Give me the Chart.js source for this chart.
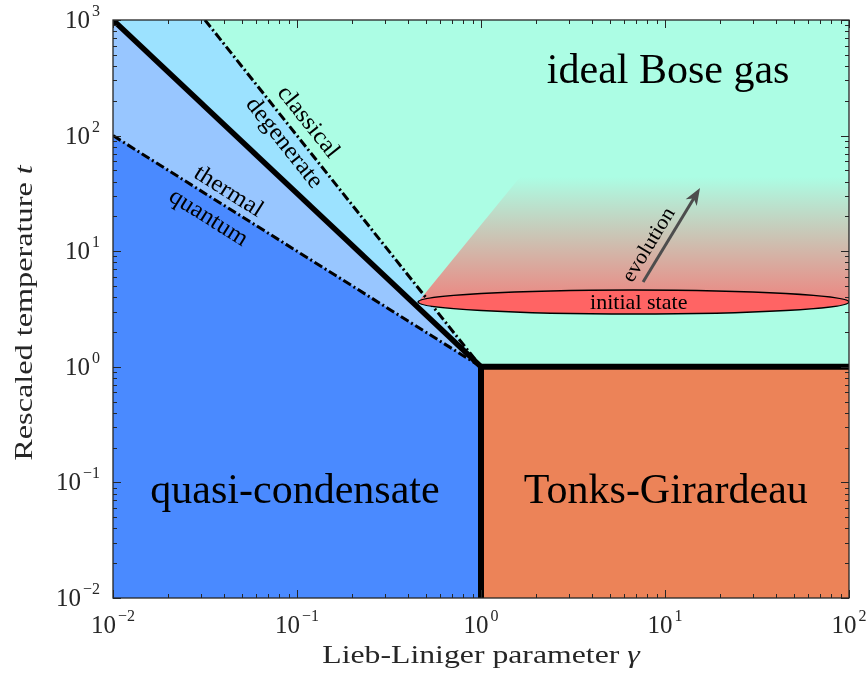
<!DOCTYPE html>
<html>
<head>
<meta charset="utf-8">
<title>1D Bose gas phase diagram</title>
<script src="https://cdn.jsdelivr.net/npm/chart.js@4.4.0/dist/chart.umd.min.js"></script>
<style>
  html, body { margin: 0; padding: 0; background: #fff; }
</style>
</head>
<body>
<canvas id="phaseChart" width="867" height="675"></canvas>
<script>
// axis ranges and decade labels
const gammaRange = [0.01, 100];
const tRange = [0.01, 1000];
const xTicks = [0.01, 0.1, 1, 10, 100];
const xTickExp = ["\u22122", "\u22121", "0", "1", "2"];
const yTicks = [0.01, 0.1, 1, 10, 100, 1000];
const yTickExp = ["\u22122", "\u22121", "0", "1", "2", "3"];

// crossover lines, all meeting at gamma = 1, t = 1
const quantumGamma = [0.01, 1];      // thermal / quantum
const quantumT = [100, 1];
const degenerateGamma = [0.01, 1];   // degenerate / quasi-condensate boundary
const degenerateT = [1000, 1];
const classicalGamma = [0.01, 0.0316, 1]; // classical / degenerate
const classicalT = [1000, 1000, 1];
const tonksGamma = [1, 100];
const tonksT = [1, 1];
const wallGamma = [1, 1];
const wallT = [0.01, 1];
const idealGamma = [0.01, 100];
const idealT = [1000, 1000];

// initial state and its evolution
const stateGamma = [0.455, 100];
const stateT = [2.86, 4.62];
const coneGamma = [0.455, 1.63, 100];
const coneT = [3.64, 43.9, 43.9];
const arrowGamma = [7.6, 15.5];
const arrowT = [5.42, 35.2];

const SERIF = '"Liberation Serif", "Times New Roman", serif';
const BOTTOM = { value: 0.01 };

const pts = (xs, ys) => xs.map((v, i) => ({ x: v, y: ys[i] }));

function region(xs, ys, color, order) {
  return {
    data: pts(xs, ys), order: order, fill: BOTTOM, clip: 0,
    backgroundColor: color, borderWidth: 0, pointRadius: 0,
  };
}

function line(xs, ys, width, dash, order) {
  return {
    data: pts(xs, ys), order: order, fill: false, clip: 0,
    borderColor: "#000", borderWidth: width, borderDash: dash,
    borderCapStyle: "butt", pointRadius: 0, tension: 0,
  };
}

// fading cone above the initial state
const cone = {
  data: pts(coneGamma, coneT), order: 5, clip: 0,
  fill: { value: coneT[0] }, borderWidth: 0, pointRadius: 0,
  backgroundColor: (c) => {
    const chart = c.chart;
    if (!chart.chartArea) return "rgba(255,100,100,0.5)";
    const y = chart.scales.y;
    const g = chart.ctx.createLinearGradient(0, y.getPixelForValue(coneT[0]), 0, y.getPixelForValue(coneT[1]));
    g.addColorStop(0, "rgba(255,100,100,0.78)");
    g.addColorStop(1, "rgba(255,100,100,0)");
    return g;
  },
};

function drawPower(ctx, x, y, exp, align) {
  ctx.font = "25px " + SERIF;
  const wb = ctx.measureText("10").width;
  ctx.font = "16px " + SERIF;
  const we = ctx.measureText(exp).width;
  const total = wb + 2 + we;
  const x0 = align === "right" ? x - total : x - total / 2;
  ctx.textAlign = "left";
  ctx.textBaseline = "alphabetic";
  ctx.font = "25px " + SERIF;
  ctx.fillText("10", x0, y);
  ctx.font = "16px " + SERIF;
  ctx.fillText(exp, x0 + wb + 2, y - 12);
}

// text centred at (cx, cy), rotated, stretched horizontally by sx
function drawParts(ctx, parts, cx, cy, angle, sx) {
  let w = 0;
  parts.forEach((p) => { ctx.font = p.font; w += ctx.measureText(p.text).width; });
  ctx.save();
  ctx.translate(cx, cy);
  ctx.rotate(angle);
  ctx.scale(sx, 1);
  ctx.textAlign = "left";
  ctx.textBaseline = "alphabetic";
  let x0 = -w / 2;
  parts.forEach((p) => {
    ctx.font = p.font;
    ctx.fillText(p.text, x0, 0);
    x0 += ctx.measureText(p.text).width;
  });
  ctx.restore();
}

function minorTicks(min, max) {
  const out = [];
  for (let d = Math.round(Math.log10(min)); d < Math.round(Math.log10(max)); d++) {
    for (let k = 2; k <= 9; k++) out.push(k * Math.pow(10, d));
  }
  return out;
}

const phaseDecor = {
  id: "phaseDecor",
  afterDatasetsDraw(chart) {
    const { ctx, chartArea: a, scales: { x, y } } = chart;
    const px = (v) => x.getPixelForValue(v);
    const py = (v) => y.getPixelForValue(v);
    const slope = (gs, ts) => Math.atan2(py(ts[ts.length - 1]) - py(ts[ts.length - 2]),
                                         px(gs[gs.length - 1]) - px(gs[gs.length - 2]));

    ctx.save();
    ctx.beginPath();
    ctx.rect(a.left, a.top, a.width, a.height);
    ctx.clip();

    // initial state
    const ex0 = px(stateGamma[0]), ex1 = px(stateGamma[1]);
    const eyTop = py(stateT[1]), eyBot = py(stateT[0]);
    ctx.beginPath();
    ctx.ellipse((ex0 + ex1) / 2, (eyTop + eyBot) / 2, (ex1 - ex0) / 2, (eyBot - eyTop) / 2, 0, 0, Math.PI * 2);
    ctx.fillStyle = "#ff6464";
    ctx.fill();
    ctx.lineWidth = 1.4;
    ctx.strokeStyle = "#000";
    ctx.stroke();

    // evolution arrow
    const ax0 = px(arrowGamma[0]), ay0 = py(arrowT[0]);
    const ax1 = px(arrowGamma[1]), ay1 = py(arrowT[1]);
    const ang = Math.atan2(ay1 - ay0, ax1 - ax0);
    const c = Math.cos(ang), s = Math.sin(ang);
    const head = 17, half = 6.5;
    ctx.strokeStyle = "#4d4d4d";
    ctx.fillStyle = "#4d4d4d";
    ctx.lineWidth = 3;
    ctx.beginPath();
    ctx.moveTo(ax0, ay0);
    ctx.lineTo(ax1 - head * 0.7 * c, ay1 - head * 0.7 * s);
    ctx.stroke();
    ctx.beginPath();
    ctx.moveTo(ax1, ay1);
    ctx.lineTo(ax1 - head * c - half * s, ay1 - head * s + half * c);
    ctx.lineTo(ax1 - head * 0.72 * c, ay1 - head * 0.72 * s);
    ctx.lineTo(ax1 - head * c + half * s, ay1 - head * s - half * c);
    ctx.closePath();
    ctx.fill();

    ctx.fillStyle = "#000";
    const big = "42px " + SERIF;
    const mid = "24px " + SERIF;
    drawParts(ctx, [{ text: "ideal Bose gas", font: big }], px(10.4), py(285), 0, 1);
    drawParts(ctx, [{ text: "quasi-condensate", font: big }], px(0.0975), py(0.0664), 0, 1);
    drawParts(ctx, [{ text: "Tonks-Girardeau", font: big }], px(10.1), py(0.0664), 0, 1);

    const aClassical = slope(classicalGamma, classicalT);
    const aQuantum = slope(quantumGamma, quantumT);
    drawParts(ctx, [{ text: "classical", font: mid }], px(0.108), py(139) + 7, aClassical, 1.05);
    drawParts(ctx, [{ text: "degenerate", font: mid }], px(0.0798), py(91.6) + 7, aClassical, 1.05);
    drawParts(ctx, [{ text: "thermal", font: mid }], px(0.0406), py(33.8) + 7, aQuantum, 1.05);
    drawParts(ctx, [{ text: "quantum", font: mid }], px(0.0316), py(20.1) + 7, aQuantum, 1.05);

    drawParts(ctx, [{ text: "evolution", font: "21px " + SERIF }], px(8.7), py(11.8) + 5, ang, 1.05);
    drawParts(ctx, [{ text: "initial state", font: "21px " + SERIF }], px(7.2), (eyTop + eyBot) / 2 + 7, 0, 1.05);
    ctx.restore();
  },
  afterDraw(chart) {
    const { ctx, chartArea: a, scales: { x, y } } = chart;
    ctx.save();
    ctx.strokeStyle = "#262626";
    ctx.lineWidth = 1;

    // inward ticks on all four sides
    const tick = (v, len, axis) => {
      ctx.beginPath();
      if (axis === "x") {
        const p = Math.round(x.getPixelForValue(v)) + 0.5;
        ctx.moveTo(p, a.bottom); ctx.lineTo(p, a.bottom - len);
        ctx.moveTo(p, a.top); ctx.lineTo(p, a.top + len);
      } else {
        const p = Math.round(y.getPixelForValue(v)) + 0.5;
        ctx.moveTo(a.left, p); ctx.lineTo(a.left + len, p);
        ctx.moveTo(a.right, p); ctx.lineTo(a.right - len, p);
      }
      ctx.stroke();
    };
    minorTicks(gammaRange[0], gammaRange[1]).forEach((v) => tick(v, 4, "x"));
    minorTicks(tRange[0], tRange[1]).forEach((v) => tick(v, 4, "y"));
    xTicks.forEach((v) => tick(v, 8, "x"));
    yTicks.forEach((v) => tick(v, 8, "y"));

    ctx.lineWidth = 1.3;
    ctx.strokeRect(a.left, a.top, a.width, a.height);

    // decade labels
    ctx.fillStyle = "#262626";
    xTicks.forEach((v, i) => drawPower(ctx, x.getPixelForValue(v), a.bottom + 35, xTickExp[i], "center"));
    yTicks.forEach((v, i) => drawPower(ctx, a.left - 13, y.getPixelForValue(v) + 8, yTickExp[i], "right"));

    // axis titles
    const tf = "25px " + SERIF, tfi = "italic 25px " + SERIF;
    drawParts(ctx, [{ text: "Lieb-Liniger parameter ", font: tf }, { text: "\u03b3", font: tfi }],
      (a.left + a.right) / 2, a.bottom + 65, 0, 1.27);
    drawParts(ctx, [{ text: "Rescaled temperature ", font: tf }, { text: "t", font: tfi }],
      32, (a.top + a.bottom) / 2 + 4, -Math.PI / 2, 1.29);
    ctx.restore();
  },
};

new Chart(document.getElementById("phaseChart"), {
  type: "line",
  data: {
    datasets: [
      region(idealGamma, idealT, "rgb(172,253,228)", 10),
      region(classicalGamma, classicalT, "rgb(156,226,255)", 9),
      region(degenerateGamma, degenerateT, "rgb(152,198,255)", 8),
      region(quantumGamma, quantumT, "rgb(74,138,255)", 7),
      region(tonksGamma, tonksT, "rgb(236,131,88)", 6),
      cone,
      line(quantumGamma, quantumT, 3, [9, 3, 2, 3], 3),
      line(classicalGamma.slice(1), classicalT.slice(1), 3, [9, 3, 2, 3], 3),
      line(degenerateGamma, degenerateT, 5.5, [], 2),
      line(tonksGamma, tonksT, 6, [], 1),
      line(wallGamma, wallT, 6, [], 1),
    ],
  },
  options: {
    responsive: false,
    animation: false,
    events: [],
    layout: { padding: { left: 113, right: 18, top: 20, bottom: 77 } },
    plugins: { legend: { display: false }, tooltip: { enabled: false } },
    scales: {
      x: { type: "logarithmic", min: gammaRange[0], max: gammaRange[1], display: false },
      y: { type: "logarithmic", min: tRange[0], max: tRange[1], display: false },
    },
  },
  plugins: [phaseDecor],
});
</script>
</body>
</html>
